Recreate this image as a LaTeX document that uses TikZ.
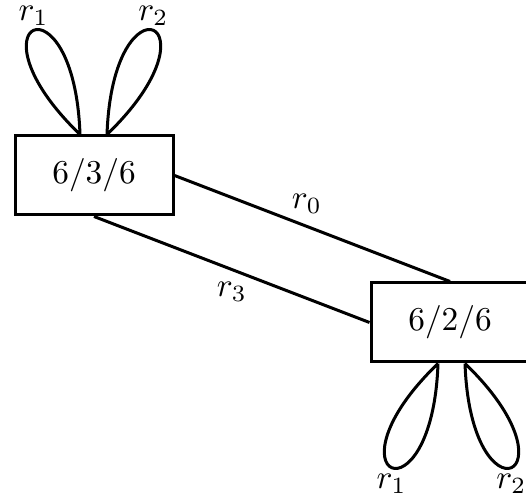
\documentclass[tikz,border=0pt]{standalone}
\usetikzlibrary{calc}
\begin{document}
\begin{tikzpicture}[x=0.3pt,y=0.3pt,line width=0.9pt,
  vbox/.style={draw,rectangle,minimum width=47.4pt,minimum height=23.7pt,inner sep=2pt},
  toplbl/.style={pos=.5,anchor=south,inner sep=0pt,yshift=1.0pt},
  botlbl/.style={pos=.5,anchor=north,inner sep=0pt,yshift=-1.4pt},
  elbl/.style={inner sep=3.33pt}]
\useasboundingbox (0,0) rectangle (526,498);
% vertices
\node[vbox] (b1) at (94,322.5) {6/3/6};
\node[vbox] (b2) at (450,175.5) {6/2/6};
% loop base points
\coordinate (p1) at ($(b1.north)+(-14,0)$);
\coordinate (p2) at ($(b1.north)+(13,0)$);
\coordinate (q1) at ($(b2.south)+(-12,0)$);
\coordinate (q2) at ($(b2.south)+(15,0)$);
% loops on the upper vertex
\draw (p1) .. controls +(136:164) and +(92:164) .. node[toplbl] (l1) {$r_1$} (p1);
\draw (p2) .. controls +(88:164) and +(44:164) .. node[toplbl] (l2) {$r_2$} (p2);
% loops on the lower vertex
\draw (q1) .. controls +(-136:164) and +(-92:164) .. node[botlbl] (l3) {$r_1$} (q1);
\draw (q2) .. controls +(-88:164) and +(-44:164) .. node[botlbl] (l4) {$r_2$} (q2);
% edges between the vertices
\draw (b1.east) -- node[pos=.48,above,elbl] (l0) {$r_0$} (b2.north);
\draw (b1.south) -- node[midway,below,elbl] (l5) {$r_3$} (b2.west);
\end{tikzpicture}
\end{document}
